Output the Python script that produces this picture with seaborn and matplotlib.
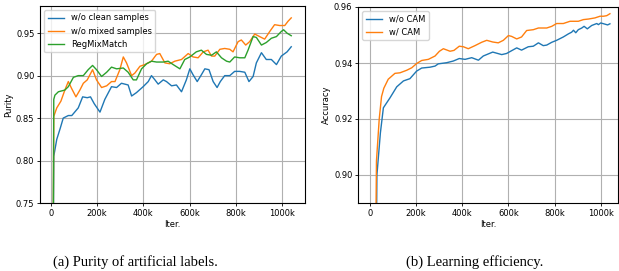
import numpy as np
import pandas as pd
import matplotlib
matplotlib.use('Agg')
import matplotlib.pyplot as plt
import seaborn as sns

# ---- (a) purity of artificial labels ----
x_clean = [8, 12, 25, 40, 53, 75, 90, 118, 137, 157, 171, 187, 212, 233, 262, 284, 305, 334,
           349, 370, 399, 421, 435, 450, 464, 486, 500, 522, 543, 565, 586, 601, 615, 633,
           651, 666, 684, 702, 719, 733, 752, 774, 795, 817, 839, 857, 875, 889, 911, 932,
           954, 976, 997, 1022, 1040]
purity_clean = [0.60, 0.805, 0.825, 0.838, 0.850, 0.853, 0.853, 0.862, 0.875, 0.874, 0.875,
                0.867, 0.857, 0.872, 0.887, 0.886, 0.891, 0.889, 0.876, 0.880, 0.887, 0.893,
                0.900, 0.895, 0.890, 0.895, 0.893, 0.888, 0.889, 0.881, 0.895, 0.908, 0.901,
                0.893, 0.901, 0.908, 0.907, 0.893, 0.886, 0.893, 0.900, 0.900, 0.905, 0.905,
                0.904, 0.893, 0.899, 0.915, 0.927, 0.919, 0.919, 0.913, 0.923, 0.928, 0.934]

x_mixed = [8, 12, 25, 43, 60, 75, 89, 108, 125, 140, 157, 180, 197, 219, 241, 262, 277, 298,
           313, 327, 349, 363, 385, 406, 435, 457, 471, 493, 514, 536, 565, 594, 615, 637,
           659, 680, 695, 709, 731, 752, 774, 788, 810, 824, 843, 860, 882, 903, 925, 947,
           968, 990, 1012, 1026, 1040]
purity_mixed = [0.60, 0.852, 0.862, 0.870, 0.883, 0.893, 0.885, 0.875, 0.883, 0.891, 0.895,
                0.907, 0.895, 0.886, 0.888, 0.893, 0.893, 0.907, 0.922, 0.915, 0.900, 0.903,
                0.911, 0.913, 0.917, 0.925, 0.926, 0.915, 0.914, 0.917, 0.919, 0.926, 0.922,
                0.921, 0.928, 0.930, 0.923, 0.923, 0.931, 0.932, 0.931, 0.928, 0.940, 0.942,
                0.936, 0.940, 0.949, 0.946, 0.943, 0.952, 0.960, 0.959, 0.959, 0.964, 0.968]

x_reg = [8, 12, 17, 32, 60, 75, 97, 118, 140, 161, 180, 197, 219, 241, 262, 284, 313, 334,
         356, 370, 392, 414, 435, 457, 486, 507, 529, 558, 579, 601, 629, 651, 673, 695,
         716, 738, 760, 774, 795, 817, 839, 853, 875, 889, 911, 932, 954, 976, 997, 1007,
         1022, 1040]
purity_reg = [0.60, 0.872, 0.877, 0.881, 0.883, 0.887, 0.898, 0.900, 0.900, 0.907, 0.912,
              0.907, 0.899, 0.904, 0.910, 0.908, 0.909, 0.904, 0.895, 0.895, 0.908, 0.914,
              0.917, 0.916, 0.916, 0.917, 0.913, 0.908, 0.919, 0.922, 0.928, 0.930, 0.925,
              0.924, 0.928, 0.921, 0.917, 0.916, 0.922, 0.921, 0.921, 0.930, 0.946, 0.945,
              0.936, 0.939, 0.944, 0.946, 0.952, 0.954, 0.950, 0.947]

# ---- (b) learning efficiency ----
x_nocam = [25, 30, 45, 58, 87, 116, 145, 173, 202, 224, 260, 282, 296, 332, 361, 387, 412,
           441, 470, 491, 532, 571, 592, 636, 657, 686, 708, 730, 751, 766, 788, 809, 838,
           860, 874, 882, 892, 903, 918, 928, 942, 961, 983, 990, 1000, 1009, 1030, 1040]
acc_nocam = [0.85, 0.900, 0.915, 0.924, 0.9276, 0.9315, 0.9336, 0.9344, 0.9371, 0.9382,
             0.9385, 0.9389, 0.9397, 0.9401, 0.9407, 0.9416, 0.9413, 0.9419, 0.9410, 0.9425,
             0.9439, 0.9430, 0.9434, 0.9454, 0.9446, 0.9458, 0.9460, 0.9472, 0.9462, 0.9464,
             0.9474, 0.9481, 0.9493, 0.9504, 0.9510, 0.9517, 0.9508, 0.9519, 0.9525, 0.9531,
             0.9522, 0.9534, 0.9541, 0.9537, 0.9543, 0.9541, 0.9536, 0.9540]

x_cam = [22, 28, 40, 50, 60, 79, 108, 130, 159, 181, 202, 224, 253, 282, 301, 318, 347, 364,
         387, 405, 426, 455, 484, 506, 532, 556, 578, 600, 614, 636, 657, 679, 708, 730, 766,
         788, 809, 838, 867, 903, 925, 947, 975, 997, 1012, 1026, 1040]
acc_cam = [0.85, 0.905, 0.920, 0.928, 0.931, 0.9342, 0.9363, 0.9365, 0.9374, 0.9383, 0.9398,
           0.9409, 0.9413, 0.9425, 0.9442, 0.9451, 0.9442, 0.9445, 0.9460, 0.9458, 0.9451,
           0.9462, 0.9474, 0.9481, 0.9475, 0.9472, 0.9481, 0.9498, 0.9495, 0.9486, 0.9493,
           0.9516, 0.9519, 0.9525, 0.9525, 0.9531, 0.9541, 0.9541, 0.9549, 0.9549, 0.9555,
           0.9557, 0.9561, 0.9567, 0.9567, 0.9569, 0.9576]

xtick_vals = [0, 200000, 400000, 600000, 800000, 1000000]
xtick_labels = ['0', '200k', '400k', '600k', '800k', '1000k']

df_a = pd.concat([
    pd.DataFrame({'iter': np.array(x_clean) * 1000, 'val': purity_clean, 'method': 'w/o clean samples'}),
    pd.DataFrame({'iter': np.array(x_mixed) * 1000, 'val': purity_mixed, 'method': 'w/o mixed samples'}),
    pd.DataFrame({'iter': np.array(x_reg) * 1000, 'val': purity_reg, 'method': 'RegMixMatch'}),
])
df_b = pd.concat([
    pd.DataFrame({'iter': np.array(x_nocam) * 1000, 'val': acc_nocam, 'method': 'w/o CAM'}),
    pd.DataFrame({'iter': np.array(x_cam) * 1000, 'val': acc_cam, 'method': 'w/ CAM'}),
])

plt.rcParams['font.family'] = ['DejaVu Sans']
fs = 6
fig = plt.figure(figsize=(6.19, 2.71), dpi=100)
ax1 = fig.add_axes([40 / 619, 68 / 271, 265 / 619, 197 / 271])
ax2 = fig.add_axes([358 / 619, 68 / 271, 260 / 619, 196 / 271])

tab = sns.color_palette('tab10')
sns.lineplot(data=df_a, x='iter', y='val', hue='method', palette=tab[:3],
             estimator=None, sort=False, linewidth=1.0, ax=ax1)
sns.lineplot(data=df_b, x='iter', y='val', hue='method', palette=tab[:2],
             estimator=None, sort=False, linewidth=1.0, ax=ax2)

ax1.set_ylim(0.75, 0.982)
ax1.set_yticks([0.75, 0.80, 0.85, 0.90, 0.95])
ax1.set_xlim(-47600, 1099600)
ax1.set_ylabel('Purity', fontsize=fs, labelpad=2)

ax2.set_ylim(0.89, 0.96)
ax2.set_yticks([0.90, 0.92, 0.94, 0.96])
ax2.set_xlim(-52000, 1075000)
ax2.set_ylabel('Accuracy', fontsize=fs, labelpad=2)

for ax in (ax1, ax2):
    ax.set_xticks(xtick_vals)
    ax.set_xticklabels(xtick_labels)
    ax.set_yticklabels([f'{t:.2f}' for t in ax.get_yticks()])
    ax.set_xlabel('Iter.', fontsize=fs, labelpad=1.5)
    ax.tick_params(labelsize=fs, length=2.5, width=0.6, pad=1.5)
    ax.grid(True, color='#b0b0b0', linewidth=0.8)
    for s in ax.spines.values():
        s.set_linewidth(0.8)
    ax.legend(loc='upper left', fontsize=fs, framealpha=0.8)

fig.text(135 / 619, 0.018, '(a) Purity of artificial labels.', ha='center', va='baseline',
         fontsize=10.5, family='Liberation Serif')
fig.text(475 / 619, 0.018, '(b) Learning efficiency.', ha='center', va='baseline',
         fontsize=10.5, family='Liberation Serif')

fig.savefig('out.png', dpi=100)
